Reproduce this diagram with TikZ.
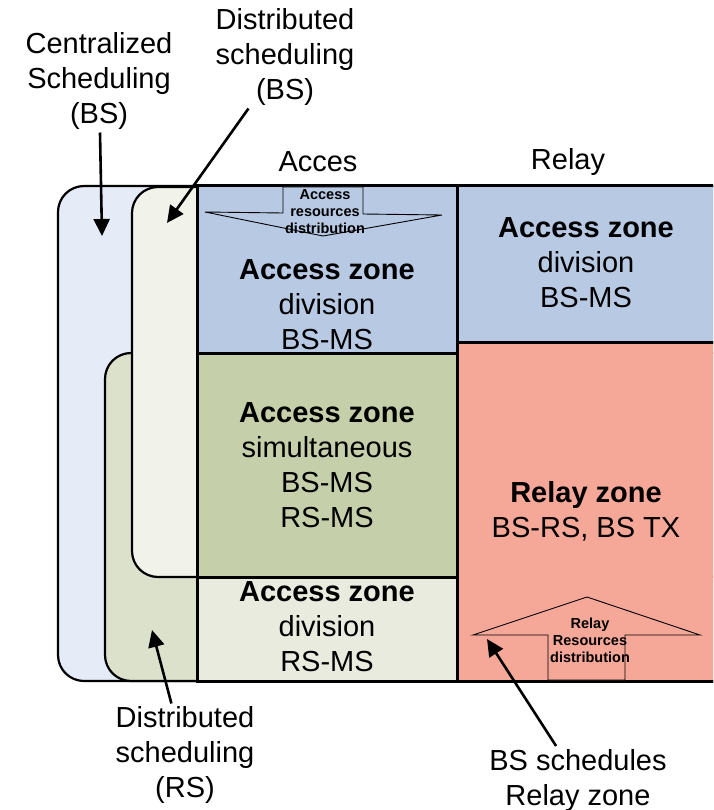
\documentclass[tikz,border=0pt]{standalone}
\usepackage{fontspec}
\setmainfont{Liberation Sans}
\usetikzlibrary{arrows.meta}
\definecolor{outerblue}{HTML}{E5ECF7}
\definecolor{creamzone}{HTML}{F1F3EB}
\definecolor{greenzone}{HTML}{DCE1CB}
\definecolor{cellblue}{HTML}{B8C9E3}
\definecolor{cellgreen}{HTML}{C5CFA9}
\definecolor{celllight}{HTML}{E9EBDE}
\definecolor{salmon}{HTML}{F5A897}
\begin{document}
\begin{tikzpicture}[x=1pt,y=-1pt,
  lbl/.style={font=\fontsize{29}{35}\selectfont, align=center, inner sep=0pt, outer sep=3pt},
  small/.style={font=\bfseries\fontsize{14.5}{17}\selectfont, align=center, inner sep=0pt},
  cell/.style={draw, line width=3pt},
  zone/.style={draw, line width=2.2pt, rounded corners=26pt},
  shapeline/.style={draw, line width=0.9pt},
  arr/.style={line width=2.6pt, -{Triangle[length=17pt,width=16pt]}}]
\path[use as bounding box, clip] (0,0) rectangle (713,810);
% scheduling zones
\draw[zone, fill=outerblue] (58,186) rectangle (780,681);
\draw[zone, fill=greenzone] (105,353) rectangle (780,681);
\draw[zone, fill=creamzone] (132,187) rectangle (780,577);
% access column
\draw[cell, fill=cellblue] (197,186) rectangle (457,353);
\draw[cell, fill=cellgreen] (197,353) rectangle (457,577);
\draw[cell, fill=celllight] (197,577) rectangle (457,681);
% relay column
\draw[cell, fill=cellblue] (457,186) rectangle (780,342);
\draw[cell, fill=salmon] (457,342) rectangle (780,681);
% resource distribution arrows
\draw[shapeline, fill=cellblue] (283,187) -- (363,187) -- (363,214) -- (442,215) -- (323,236) -- (205,212) -- (283,213) -- cycle;
\draw[shapeline, fill=salmon] (587,597) -- (700,635) -- (625,635) -- (625,680) -- (548,680) -- (548,635) -- (473,635) -- cycle;
\node[small] (ard) at (325,212) {Access\\resources\\distribution};
\node[small] (rrd) at (590,640) {Relay\\Resources\\distribution};
% column headings
\node[lbl] (hacc) at (318,162) {Acces};
\node[lbl] (hrel) at (568,162) {Relay};
% zone texts
\node[lbl] (z1) at (327,305) {\textbf{Access zone}\\division\\BS-MS};
\node[lbl] (z2) at (327,465) {\textbf{Access zone}\\simultaneous\\BS-MS\\RS-MS};
\node[lbl] (z3) at (327,627) {\textbf{Access zone}\\division\\RS-MS};
\node[lbl] (z4) at (586,263) {\textbf{Access zone}\\division\\BS-MS};
\node[lbl] (z5) at (586,511) {\textbf{Relay zone}\\BS-RS, BS TX};
% outside labels
\node[lbl] (cen) at (99,81) {Centralized\\Scheduling\\(BS)};
\node[lbl] (dbs) at (285,57) {Distributed\\scheduling\\(BS)};
\node[lbl] (drs) at (185,755) {Distributed\\scheduling\\(RS)};
\node[lbl] (bsr) at (578,780) {BS schedules\\Relay zone};
% pointer tips
\coordinate (t1) at (102,236);
\coordinate (t2) at (167,223);
\coordinate (t3) at (152,630);
\coordinate (t4) at (487,639);
\draw[arr] (cen) -- (t1);
\draw[arr] (dbs) -- (t2);
\draw[arr] (drs) -- (t3);
\draw[arr] (bsr) -- (t4);
\end{tikzpicture}
\end{document}
